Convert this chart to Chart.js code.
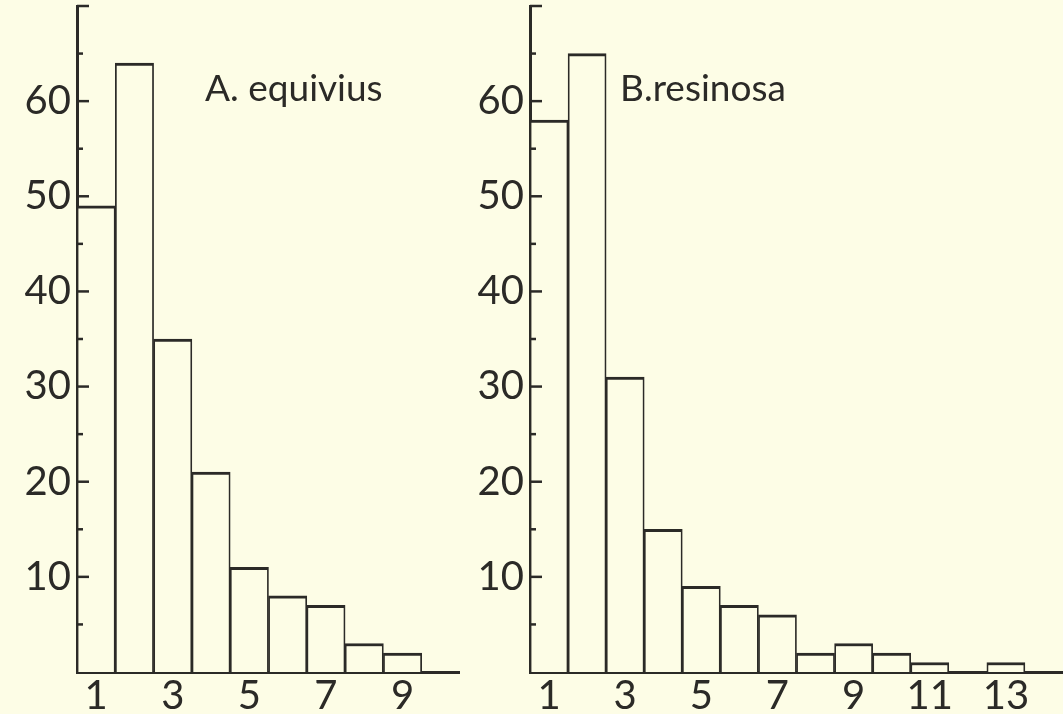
<!DOCTYPE html>
<html>
<head>
<meta charset="utf-8">
<script src="https://cdn.jsdelivr.net/npm/chart.js@4"></script>
<style>
  html, body { margin: 0; padding: 0; background: #fdfde6; }
  #wrap { position: relative; width: 1063px; height: 714px; overflow: hidden; }
  #boxA { position: absolute; left: 0; top: 0; }
  #boxB { position: absolute; left: 460px; top: 0; }
</style>
</head>
<body>
<div id="wrap">
  <div id="boxA"><canvas id="chartA" width="460" height="714"></canvas></div>
  <div id="boxB"><canvas id="chartB" width="603" height="714"></canvas></div>
</div>
<script>
// data
var titleA = 'A. equivius'
var titleB = 'B.resinosa'
var classesA = ['1', '2', '3', '4', '5', '6', '7', '8', '9', '10']
var countsA = [49, 64, 35, 21, 11, 8, 7, 3, 2, null]
var classesB = ['1', '2', '3', '4', '5', '6', '7', '8', '9', '10', '11', '12', '13', '14']
var countsB = [58, 65, 31, 15, 9, 7, 6, 2, 3, 2, 1, 0, 1, null]
var yMax = 70

var ink = '#2b2a27'
var paper = '#fdfde6'
var fontName = 'Lato, "DejaVu Sans", sans-serif'

// ticks drawn on the inside of the y axis, long every 10, short every 5
var innerTicks = {
    id: 'innerTicks',
    afterDatasetsDraw(chart) {
        const ctx = chart.ctx
        const ys = chart.scales.y
        const x0 = chart.chartArea.left
        ctx.save()
        ctx.strokeStyle = ink
        ctx.lineWidth = 2.5
        for (let v = 5; v <= yMax; v += 5) {
            const py = ys.getPixelForValue(v)
            const len = v % 10 === 0 ? 12 : 6
            ctx.beginPath()
            ctx.moveTo(x0, py)
            ctx.lineTo(x0 + len, py)
            ctx.stroke()
        }
        ctx.restore()
    }
}

// panel name written inside the plot
var panelName = {
    id: 'panelName',
    afterDraw(chart, args, opts) {
        const ctx = chart.ctx
        ctx.save()
        ctx.fillStyle = ink
        ctx.font = '37px ' + fontName
        ctx.textAlign = 'left'
        ctx.textBaseline = 'alphabetic'
        ctx.fillText(opts.text, chart.chartArea.left + opts.dx, opts.y)
        ctx.restore()
    }
}

function makeChart(id, labels, counts, name, yWidth, dx) {
    return new Chart(document.getElementById(id), {
        type: 'bar',
        data: {
            labels: labels,
            datasets: [{
                data: counts,
                backgroundColor: paper,
                borderColor: ink,
                borderWidth: { top: 3, left: 1.75, right: 1.75, bottom: 0 },
                borderSkipped: 'bottom',
                categoryPercentage: 1,
                barPercentage: 1
            }]
        },
        options: {
            responsive: false,
            animation: false,
            layout: { padding: { top: 6, right: 0, left: 0, bottom: 0 } },
            plugins: {
                legend: { display: false },
                tooltip: { enabled: false },
                panelName: { text: name, dx: dx, y: 101 }
            },
            scales: {
                x: {
                    offset: true,
                    grid: { display: false, drawTicks: false },
                    border: { color: ink, width: 3 },
                    ticks: {
                        color: ink,
                        padding: 0,
                        maxRotation: 0,
                        autoSkip: false,
                        font: { family: fontName, size: 40 },
                        callback: function(val, i) { return (i % 2 === 0) ? this.getLabelForValue(val) : '' }
                    },
                    afterFit: function(s) { s.height = 42; s.paddingLeft = 0; s.paddingRight = 0 }
                },
                y: {
                    min: 0,
                    max: yMax,
                    grid: { display: false, drawTicks: false },
                    border: { color: ink, width: 3 },
                    ticks: {
                        stepSize: 5,
                        color: ink,
                        padding: 6,
                        font: { family: fontName, size: 40 },
                        callback: function(v) { return (v % 10 === 0 && v > 0 && v < yMax) ? v : '' }
                    },
                    afterFit: function(s) { s.width = yWidth; s.paddingTop = 0; s.paddingBottom = 0 }
                }
            }
        },
        plugins: [innerTicks, panelName]
    })
}

makeChart('chartA', classesA, countsA, titleA, 77, 128)
makeChart('chartB', classesB, countsB, titleB, 70, 90)
</script>
</body>
</html>
